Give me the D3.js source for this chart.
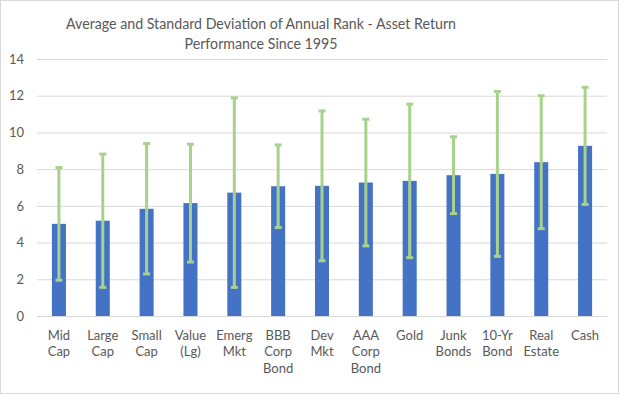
<!DOCTYPE html>
<html>
<head>
<meta charset="utf-8">
<script src="https://cdn.jsdelivr.net/npm/d3@7"></script>
<style>
  body { margin: 0; background: #fff; }
  text { font-family: Lato, "Open Sans", sans-serif; fill: #595959; }
</style>
</head>
<body>
<div id="chart"></div>
<script>
// categories (multi-line labels split on "|")
var categories = ["Mid|Cap", "Large|Cap", "Small|Cap", "Value|(Lg)", "Emerg|Mkt", "BBB|Corp|Bond",
    "Dev|Mkt", "AAA|Corp|Bond", "Gold", "Junk|Bonds", "10-Yr|Bond", "Real|Estate", "Cash"];

// average annual rank
var averages = [5.02, 5.19, 5.84, 6.15, 6.72, 7.07, 7.09, 7.27, 7.36, 7.67, 7.74, 8.38, 9.27];

// standard deviation (error bar half-length)
var stdDevs = [3.07, 3.63, 3.55, 3.21, 5.16, 2.25, 4.08, 3.45, 4.18, 2.09, 4.49, 3.62, 3.19];

var yTicks = [0, 2, 4, 6, 8, 10, 12, 14];

var titleLines = ["Average and Standard Deviation of Annual Rank - Asset Return",
    "Performance Since 1995"];

var width = 620, height = 395;
var margin = {top: 59, right: 13, bottom: 79, left: 37};
var w = width - margin.left - margin.right,
    h = height - margin.top - margin.bottom;

var svg = d3.select("#chart")
    .append("svg")
    .attr("width", width)
    .attr("height", height);

// chart frame
svg.append("rect")
    .attr("x", 0.5).attr("y", 0.5)
    .attr("width", 618).attr("height", 393)
    .attr("fill", "#fff")
    .attr("stroke", "#d9d9d9");

// title - squeezed to the narrow width of the original font
var titleWidths = [390, 153];
svg.append("g").selectAll("text")
    .data(titleLines)
    .enter().append("text")
    .attr("x", 261)
    .attr("y", function(d, i) { return 29 + i * 20; })
    .attr("text-anchor", "middle")
    .attr("textLength", function(d, i) { return titleWidths[i]; })
    .attr("lengthAdjust", "spacingAndGlyphs")
    .style("font-size", "15.5px")
    .text(function(d) { return d; });

var g = svg.append("g")
    .attr("transform", "translate(" + margin.left + "," + margin.top + ")");

var xScale = d3.scaleBand()
    .domain(categories)
    .range([0, w])
    .paddingInner(0.68)
    .paddingOuter(0.34);

var yScale = d3.scaleLinear()
    .domain([0, 14])
    .range([h, 0]);

// gridlines + y labels
var yAxis = d3.axisLeft(yScale).tickValues(yTicks).tickSize(-w).tickPadding(13);

var yg = g.append("g")
    .attr("class", "y axis")
    .call(yAxis);
yg.select(".domain").remove();
yg.selectAll("line").attr("stroke", "#d9d9d9");
yg.selectAll("text")
    .attr("fill", "#595959")
    .style("font-size", "13px")
    .style("font-family", "Lato, 'Open Sans', sans-serif");

// bars
g.append("g").selectAll("rect")
    .data(categories)
    .enter().append("rect")
    .attr("x", function(d) { return xScale(d); })
    .attr("width", xScale.bandwidth())
    .attr("y", function(d, i) { return yScale(averages[i]); })
    .attr("height", function(d, i) { return h - yScale(averages[i]); })
    .attr("fill", "#4472c4");

// error bars
var eb = g.append("g").selectAll("g")
    .data(categories)
    .enter().append("g")
    .attr("transform", function(d) {
        return "translate(" + (xScale(d) + xScale.bandwidth() / 2) + ",0)";
    });

eb.append("line")
    .attr("y1", function(d, i) { return yScale(averages[i] + stdDevs[i]); })
    .attr("y2", function(d, i) { return yScale(averages[i] - stdDevs[i]); })
    .attr("stroke", "#a9d18e")
    .attr("stroke-width", 3);

[1, -1].forEach(function(sign) {
    eb.append("line")
        .attr("x1", -3.5).attr("x2", 3.5)
        .attr("y1", function(d, i) { return yScale(averages[i] + sign * stdDevs[i]); })
        .attr("y2", function(d, i) { return yScale(averages[i] + sign * stdDevs[i]); })
        .attr("stroke", "#a9d18e")
        .attr("stroke-width", 3);
});

// category labels
var xl = g.append("g").selectAll("text")
    .data(categories)
    .enter().append("text")
    .attr("x", function(d) { return xScale(d) + xScale.bandwidth() / 2; })
    .attr("y", h + 23.5)
    .attr("text-anchor", "middle")
    .style("font-size", "13px");

xl.selectAll("tspan")
    .data(function(d) { return d.split("|"); })
    .enter().append("tspan")
    .attr("x", function() { return d3.select(this.parentNode).attr("x"); })
    .attr("dy", function(d, i) { return i === 0 ? 0 : 16.5; })
    .text(function(d) { return d; });
</script>
</body>
</html>
